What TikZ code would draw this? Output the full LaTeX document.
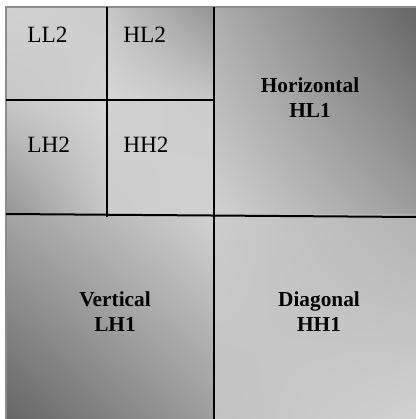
\documentclass[tikz,border=0pt]{standalone}
\usepackage{fontspec}
\setmainfont{Liberation Serif}
\usetikzlibrary{shadings}

\begin{document}
\begin{tikzpicture}[x=0.75pt, y=0.75pt,
    band/.style={line width=1.5pt, black},
    sub/.style={anchor=base west, inner sep=0pt, font=\fontsize{17.5}{20}\selectfont},
    main/.style={align=center, inner sep=0pt, font=\fontsize{16}{18.75}\selectfont\bfseries}]

  \useasboundingbox (0,0) rectangle (416,419);

  % level-2 sub-bands
  \shade[upper left=black!18, upper right=black!20, lower left=black!22, lower right=black!18]
        (7,319) rectangle (107,411);
  \shade[upper left=black!22, upper right=black!42, lower left=black!16, lower right=black!22]
        (107,319) rectangle (214,411);
  \shade[upper left=black!22, upper right=black!16, lower left=black!42, lower right=black!22]
        (7,204) rectangle (107,319);
  \shade[upper left=black!18, upper right=black!20, lower left=black!20, lower right=black!18]
        (107,204) rectangle (214,319);

  % level-1 bands
  \shade[upper left=black!32, upper right=black!60, lower left=black!18, lower right=black!38]
        (214,204) rectangle (416,411);
  \shade[upper left=black!36, upper right=black!18, lower left=black!60, lower right=black!38]
        (7,0) rectangle (214,204);
  \shade[upper left=black!20, upper right=black!30, lower left=black!24, lower right=black!18]
        (214,0) rectangle (416,204);

  % outer frame
  \draw[black!45, line width=1.2pt] (6,0) -- (6,412) -- (416,412);

  % band borders
  \coordinate (tl) at (6,319);
  \coordinate (tr) at (214,319);
  \coordinate (vt) at (107,412);
  \coordinate (vb) at (107,202);
  \coordinate (mt) at (214,412);
  \coordinate (mb) at (214,0);
  \coordinate (hl) at (6,205);
  \coordinate (hr) at (416,202);
  \draw[band] (tl) -- (tr);
  \draw[band] (vt) -- (vb);
  \draw[band] (mt) -- (mb);
  \draw[band] (hl) -- (hr);

  \node[sub] (ll2) at (27,377) {LL2};
  \node[sub] (hl2) at (123,377) {HL2};
  \node[sub] (lh2) at (27,267) {LH2};
  \node[sub] (hh2) at (123,267) {HH2};

  \node[main] (hl1) at (310,321) {Horizontal\\HL1};
  \node[main] (lh1) at (115,107) {Vertical\\LH1};
  \node[main] (hh1) at (319,107) {Diagonal\\HH1};
\end{tikzpicture}
\end{document}
